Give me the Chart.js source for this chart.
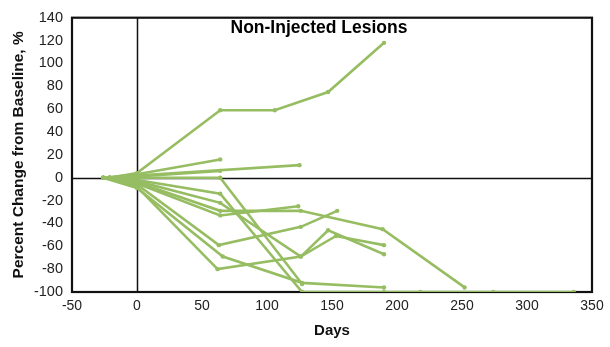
<!DOCTYPE html>
<html>
<head>
<meta charset="utf-8">
<script src="https://cdn.jsdelivr.net/npm/chart.js@4/dist/chart.umd.min.js"></script>
<style>
  html, body { margin: 0; padding: 0; background: #fff; }
  #wrap { width: 610px; height: 347px; }
</style>
</head>
<body>
<div id="wrap"><canvas id="c" width="610" height="347"></canvas></div>
<script>
// Days from baseline for each non-injected lesion
const lesionDays = [
  [-21, 0, 64, 106, 147, 190],
  [-26, 0, 64],
  [-21, 0, 125],
  [-26, 0, 64],
  [-21, 0, 64, 127],
  [-26, 0, 64, 127, 190, 218, 274, 336],
  [-21, 0, 64, 126, 147, 190],
  [-26, 0, 64, 126, 189, 252],
  [-21, 0, 64, 124],
  [-26, 0, 63, 126, 154],
  [-21, 0, 62, 126, 153, 190],
  [-26, 0, 66, 127, 190]
];
// Percent change from baseline at those days
const lesionPct = [
  [0, 4, 59, 59, 75, 118],
  [0, 3, 16],
  [0, 2, 11],
  [0, 1, 6],
  [0, 0, 0, -93],
  [0, -2, -14, -100, -100, -100, -100, -100],
  [0, -3, -22, -69, -46, -67],
  [0, -4, -29, -29, -45, -96],
  [0, -5, -33, -25],
  [0, -6, -59, -43, -29],
  [0, -8, -80, -69, -51, -59],
  [0, -9, -69, -92, -96]
];
const xTicks = [-50, 0, 50, 100, 150, 200, 250, 300, 350];
const yTicks = [-100, -80, -60, -40, -20, 0, 20, 40, 60, 80, 100, 120, 140];

const GREEN = '#96bd62';
const FONT = '"Liberation Sans", Arial, Helvetica, sans-serif';

const datasets = lesionDays.map((d, i) => ({
  data: d.map((x, j) => ({ x: x, y: lesionPct[i][j] })),
  borderColor: GREEN,
  backgroundColor: GREEN,
  borderWidth: 2.6,
  pointRadius: 2.2,
  pointHoverRadius: 2.2,
  pointBorderWidth: 0,
  tension: 0,
  fill: false
}));

// Box frame, zero lines and the in-plot heading
const framePlugin = {
  id: 'frame',
  beforeDatasetsDraw(chart) {
    const { ctx, chartArea: a, scales } = chart;
    ctx.save();
    ctx.strokeStyle = '#111';
    ctx.lineWidth = 1.5;
    const x0 = Math.round(scales.x.getPixelForValue(0)) + 0.5;
    const y0 = Math.round(scales.y.getPixelForValue(0)) + 0.5;
    ctx.beginPath();
    ctx.moveTo(x0, a.top); ctx.lineTo(x0, a.bottom);
    ctx.moveTo(a.left, y0); ctx.lineTo(a.right, y0);
    ctx.stroke();
    ctx.lineWidth = 2.2;
    ctx.strokeRect(a.left, a.top, a.right - a.left, a.bottom - a.top);
    ctx.restore();
  },
  afterDraw(chart) {
    const { ctx, scales } = chart;
    ctx.save();
    ctx.fillStyle = '#000';
    ctx.font = 'bold 17.5px ' + FONT;
    ctx.textAlign = 'center';
    ctx.textBaseline = 'middle';
    ctx.fillText('Non-Injected Lesions', scales.x.getPixelForValue(140), scales.y.getPixelForValue(131));
    ctx.restore();
  }
};

new Chart(document.getElementById('c'), {
  type: 'line',
  data: { datasets },
  options: {
    responsive: false,
    animation: false,
    events: [],
    layout: { padding: { left: 0, right: 18, top: 14, bottom: 7 } },
    plugins: { legend: { display: false }, tooltip: { enabled: false } },
    scales: {
      x: {
        type: 'linear',
        min: -50, max: 350,
        afterBuildTicks: s => { s.ticks = xTicks.map(v => ({ value: v })); },
        afterFit: s => { s.height = 48; },
        grid: { display: false, drawTicks: false },
        border: { display: false },
        ticks: { color: '#222', font: { family: FONT, size: 14 }, padding: 6, maxRotation: 0 },
        title: { display: true, text: 'Days', color: '#111', font: { family: FONT, size: 15, weight: 'bold' }, padding: { top: 0, bottom: 0 } }
      },
      y: {
        type: 'linear',
        min: -100, max: 140,
        afterBuildTicks: s => { s.ticks = yTicks.map(v => ({ value: v })); },
        afterFit: s => { s.width = 72; },
        grid: { display: false, drawTicks: false },
        border: { display: false },
        ticks: { color: '#222', font: { family: FONT, size: 14.5 }, padding: 9 },
        title: { display: true, text: 'Percent Change from Baseline, %', color: '#111', font: { family: FONT, size: 15.5, weight: 'bold' }, padding: { top: 9, bottom: 0 } }
      }
    }
  },
  plugins: [framePlugin]
});
</script>
</body>
</html>
